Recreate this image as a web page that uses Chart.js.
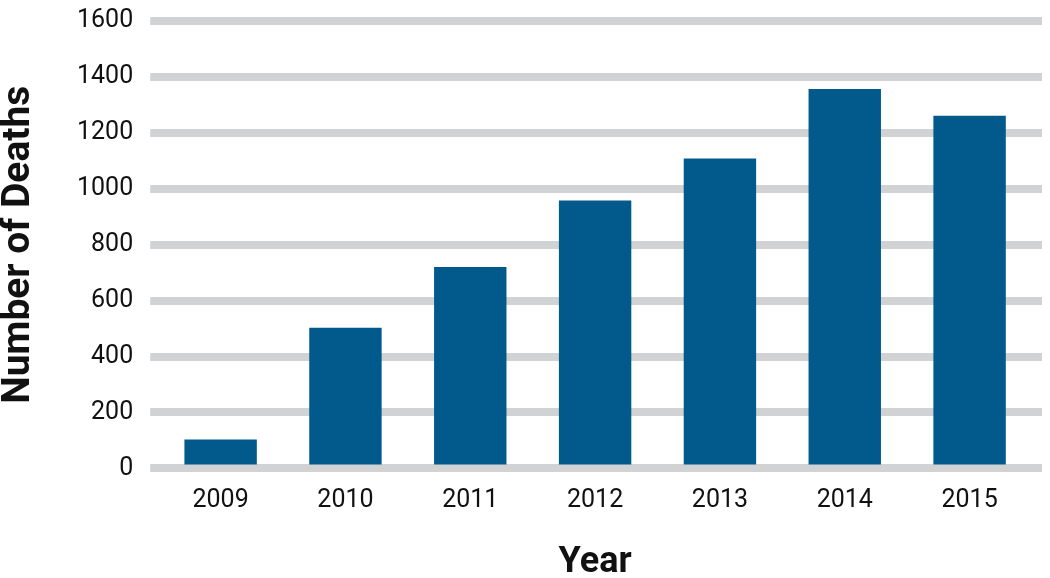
<!DOCTYPE html>
<html>
<head>
<meta charset="utf-8">
<script src="https://cdn.jsdelivr.net/npm/chart.js@4.4.1/dist/chart.umd.min.js"></script>
<style>
  html, body { margin: 0; padding: 0; background: #ffffff; }
  #wrap { width: 1050px; height: 578px; position: relative; }
</style>
</head>
<body>
<div id="wrap"><canvas id="deathsChart"></canvas></div>
<script>
// datos del gráfico
const years = ["2009", "2010", "2011", "2012", "2013", "2014", "2015"];
const deaths = [103, 503, 720, 958, 1108, 1357, 1261];
const yTicks = [0, 200, 400, 600, 800, 1000, 1200, 1400, 1600];

const gridGray = "#d1d2d4";
const barBlue = "#01598c";

new Chart(document.getElementById("deathsChart"), {
  type: "bar",
  data: {
    labels: years,
    datasets: [{
      data: deaths,
      backgroundColor: barBlue,
      borderWidth: 0,
      barPercentage: 0.58,
      categoryPercentage: 1
    }]
  },
  options: {
    responsive: true,
    maintainAspectRatio: false,
    animation: false,
    layout: { padding: { top: 0, right: 8, bottom: 0, left: 0 } },
    plugins: { legend: { display: false }, tooltip: { enabled: false } },
    scales: {
      x: {
        grid: { display: false },
        border: { display: false },
        ticks: {
          color: "#111111",
          padding: 9,
          font: { family: "Roboto", size: 25 }
        },
        title: {
          display: true,
          text: "Year",
          color: "#111111",
          padding: { top: 23, bottom: 0 },
          font: { family: "Roboto", size: 36, weight: "bold", lineHeight: 0.85 }
        }
      },
      y: {
        min: 0,
        max: 1600,
        afterBuildTicks: axis => { axis.ticks = yTicks.map(v => ({ value: v })); },
        grid: { color: gridGray, lineWidth: 8, tickLength: 8, tickColor: gridGray },
        border: { display: false },
        ticks: {
          color: "#111111",
          padding: 17,
          font: { family: "Roboto", size: 25, lineHeight: 0.32 },
          callback: v => String(v)
        },
        title: {
          display: true,
          text: "Number of Deaths",
          color: "#111111",
          padding: { top: 0, bottom: 21 },
          font: { family: "Roboto", size: 39, weight: "bold", lineHeight: 1 }
        }
      },
      y2: {
        position: "right",
        min: 0,
        max: 1600,
        afterBuildTicks: axis => { axis.ticks = yTicks.map(v => ({ value: v })); },
        grid: { drawOnChartArea: false, lineWidth: 8, tickLength: 10, tickColor: gridGray },
        border: { display: false },
        ticks: { display: false }
      }
    }
  }
});
</script>
</body>
</html>
